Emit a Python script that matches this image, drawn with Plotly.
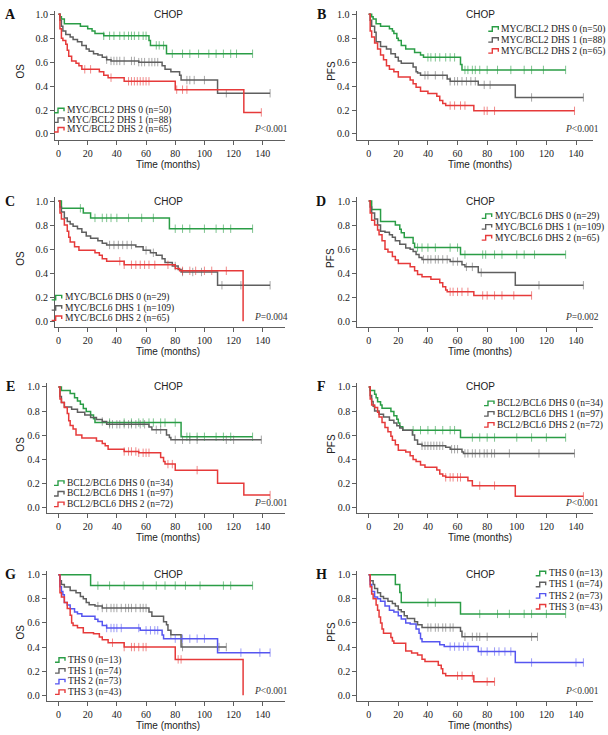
import plotly.graph_objects as go

W, H = 608, 735

# ---------------- data (time in months, survival) ----------------
MONTH_TICKS = [0, 20, 40, 60, 80, 100, 120, 140]
SURV_TICKS = [0.0, 0.2, 0.4, 0.6, 0.8, 1.0]

LBL_MB2 = ["MYC/BCL2 DHS 0 (n=50)", "MYC/BCL2 DHS 1 (n=88)", "MYC/BCL2 DHS 2 (n=65)"]
LBL_MB6 = ["MYC/BCL6 DHS 0 (n=29)", "MYC/BCL6 DHS 1 (n=109)", "MYC/BCL6 DHS 2 (n=65)"]
LBL_BB6 = ["BCL2/BCL6 DHS 0 (n=34)", "BCL2/BCL6 DHS 1 (n=97)", "BCL2/BCL6 DHS 2 (n=72)"]
LBL_THS = ["THS 0 (n=13)", "THS 1 (n=74)", "THS 2 (n=73)", "THS 3 (n=43)"]

P_VALUES = ["<i>P</i>&lt;0.001", "<i>P</i>&lt;0.001", "<i>P</i>=0.004", "<i>P</i>=0.002",
            "<i>P</i>=0.001", "<i>P</i>&lt;0.001", "<i>P</i>&lt;0.001", "<i>P</i>&lt;0.001"]

# Panel A: OS, MYC/BCL2
A0 = [(0,1.0),(1,0.98),(2,0.96),(4,0.92),(15,0.90),(20,0.88),(23,0.86),(25,0.84),(31,0.82),(62,0.78),(63,0.74),(74,0.67),(133,0.67)]
A1 = [(0,1.0),(1,0.95),(2,0.90),(3,0.86),(5,0.83),(8,0.81),(10,0.79),(13,0.77),(16,0.74),(19,0.71),(21,0.69),(24,0.67),(27,0.66),(30,0.64),(33,0.62),(36,0.61),(55,0.60),(71,0.57),(73,0.54),(77,0.52),(83,0.49),(84,0.45),(109,0.34),(145,0.34)]
A2 = [(0,1.0),(1,0.88),(2,0.80),(3,0.78),(5,0.75),(6,0.70),(7,0.65),(9,0.61),(12,0.59),(14,0.57),(16,0.54),(28,0.52),(31,0.49),(34,0.47),(45,0.44),(80,0.37),(127,0.18),(139,0.18)]
A0_cens = [31,35,38,42,45,48,50,52,55,58,60,67,69,72,78,85,90,96,103,108,113,118,122,133]
A1_cens = [33,36,38,40,42,45,50,52,55,57,59,62,64,66,68,88,90,93,100,115,145]
A2_cens = [18,22,36,48,50,52,54,56,58,60,62,81,85,88,139]

# Panel B: PFS, MYC/BCL2
B0 = [(0,1.0),(2,0.98),(3,0.96),(5,0.92),(8,0.90),(14,0.88),(16,0.86),(17,0.84),(19,0.80),(20,0.78),(22,0.74),(25,0.71),(31,0.68),(35,0.66),(37,0.64),(62,0.58),(63,0.535),(133,0.535)]
B1 = [(0,1.0),(1,0.95),(2,0.90),(4,0.85),(5,0.77),(8,0.73),(12,0.71),(15,0.67),(18,0.64),(20,0.61),(22,0.59),(30,0.56),(32,0.52),(33,0.51),(35,0.49),(53,0.46),(55,0.44),(74,0.41),(99,0.305),(145,0.305)]
B2 = [(0,1.0),(1,0.86),(2,0.81),(4,0.76),(6,0.71),(8,0.66),(10,0.62),(12,0.57),(14,0.54),(17,0.52),(20,0.475),(28,0.45),(30,0.42),(32,0.39),(35,0.356),(40,0.337),(46,0.315),(48,0.28),(50,0.254),(52,0.237),(71,0.193),(139,0.193)]
B0_cens = [40,42,45,48,52,55,58,65,67,70,72,75,80,87,96,105,110,118,133]
B1_cens = [38,40,45,50,55,58,60,63,66,69,72,78,82,110,145]
B2_cens = [55,58,62,65,78,80,85,139]

# Panel C: OS, MYC/BCL6
C0 = [(0,1.0),(2,0.94),(17,0.90),(22,0.86),(76,0.77),(133,0.77)]
C1 = [(0,1.0),(1,0.95),(2,0.91),(4,0.86),(6,0.83),(8,0.81),(10,0.79),(13,0.77),(16,0.74),(19,0.71),(22,0.69),(27,0.67),(30,0.65),(33,0.635),(53,0.62),(58,0.59),(63,0.57),(67,0.55),(71,0.52),(73,0.49),(78,0.46),(82,0.43),(84,0.41),(109,0.30),(145,0.30)]
C2 = [(0,1.0),(1,0.90),(2,0.85),(4,0.80),(6,0.75),(7,0.70),(8,0.66),(11,0.62),(14,0.59),(25,0.57),(28,0.55),(30,0.52),(33,0.50),(45,0.47),(80,0.44),(83,0.42),(126.5,0.0)]
C0_cens = [15,25,30,33,36,40,48,57,65,80,85,90,100,108,113,118,133]
C1_cens = [35,38,41,44,47,50,60,65,80,85,92,98,112,125,145]
C2_cens = [42,45,50,53,56,59,62,66,75,85,90,94,100,105,115]

# Panel D: PFS, MYC/BCL6
D0 = [(0,1.0),(2,0.93),(8,0.83),(18,0.80),(21,0.765),(22,0.737),(24,0.696),(30,0.65),(31,0.613),(62,0.555),(133,0.555)]
D1 = [(0,1.0),(1,0.95),(2,0.90),(4,0.85),(6,0.80),(8,0.75),(11,0.74),(14,0.72),(16,0.70),(18,0.67),(21,0.64),(25,0.61),(28,0.60),(30,0.58),(32,0.555),(34,0.53),(36,0.515),(55,0.497),(63,0.47),(65,0.453),(74,0.405),(99,0.30),(145,0.30)]
D2 = [(0,1.0),(1,0.90),(2,0.84),(4,0.80),(6,0.76),(7,0.72),(9,0.67),(11,0.60),(13,0.577),(16,0.54),(18,0.51),(20,0.48),(28,0.453),(31,0.42),(33,0.39),(36,0.37),(42,0.35),(48,0.32),(50,0.287),(52,0.26),(53,0.245),(71,0.215),(110,0.215)]
D0_cens = [33,36,40,45,55,60,65,77,79,85,90,100,105,112,133]
D1_cens = [37,40,42,45,47,50,53,57,60,66,70,76,115,145]
D2_cens = [55,57,60,63,67,77,80,85,90,98,110]

# Panel E: OS, BCL2/BCL6
E0 = [(0,1.0),(2,0.97),(8,0.945),(11,0.91),(13,0.884),(15,0.856),(17,0.82),(19,0.796),(22,0.768),(24,0.735),(25,0.704),(84,0.586),(133,0.586)]
E1 = [(0,1.0),(1,0.92),(2,0.87),(4,0.834),(9,0.815),(13,0.79),(18,0.768),(22,0.746),(26,0.73),(30,0.713),(33,0.69),(62,0.668),(64,0.644),(74,0.60),(76,0.58),(77,0.561),(139,0.561)]
E2 = [(0,1.0),(1,0.90),(2,0.87),(4,0.83),(6,0.78),(7,0.72),(8,0.68),(10,0.65),(12,0.60),(16,0.575),(26,0.552),(30,0.53),(32,0.511),(34,0.483),(45,0.464),(55,0.453),(70,0.414),(72,0.38),(73,0.359),(80,0.309),(109,0.20),(127,0.102),(145,0.102)]
E0_cens = [35,45,50,55,58,62,65,70,73,80,88,90,95,100,108,113,118,133]
E1_cens = [30,35,37,40,42,45,48,50,53,56,59,67,70,80,85,90,95,115,120,139]
E2_cens = [45,48,50,53,55,58,60,62,75,78,95,145]

# Panel F: PFS, BCL2/BCL6
F0 = [(0,1.0),(1,0.97),(4,0.94),(5,0.91),(6,0.878),(8,0.85),(9,0.823),(15,0.796),(17,0.76),(19,0.732),(20,0.70),(21,0.67),(23,0.641),(62,0.58),(133,0.58)]
F1 = [(0,1.0),(1,0.93),(2,0.88),(3,0.84),(4,0.80),(7,0.773),(10,0.75),(14,0.724),(17,0.70),(19,0.677),(21,0.66),(23,0.641),(29.5,0.60),(31,0.56),(33,0.525),(36,0.511),(52,0.50),(55,0.483),(63,0.46),(64,0.448),(139,0.448)]
F2 = [(0,1.0),(1,0.90),(2,0.85),(4,0.83),(6,0.79),(7,0.751),(9,0.704),(11,0.663),(13,0.627),(15,0.59),(16,0.558),(18,0.52),(20,0.475),(25,0.46),(28,0.428),(30,0.398),(32,0.38),(35,0.351),(38,0.332),(46,0.31),(48,0.276),(50,0.26),(52,0.249),(67,0.22),(70,0.18),(99,0.091),(145,0.091)]
F0_cens = [30,35,40,45,50,55,58,70,75,80,85,100,110,120,133]
F1_cens = [36,38,40,42,44,46,48,50,56,58,60,65,67,70,72,75,78,80,83,85,95,115,139]
F2_cens = [52,55,57,60,62,75,85,145]

# Panel G: OS, THS
G0 = [(0,1.0),(22,0.91),(133,0.91)]
G1 = [(0,1.0),(1,0.95),(2,0.92),(4,0.898),(8,0.87),(12,0.851),(15,0.82),(17,0.80),(19,0.77),(21,0.751),(25,0.74),(30,0.724),(62,0.69),(64,0.655),(72,0.61),(74,0.586),(75,0.54),(77,0.503),(84,0.40),(115,0.40)]
G2 = [(0,1.0),(1,0.90),(2,0.86),(3,0.834),(4,0.77),(6,0.75),(8,0.718),(11,0.69),(13,0.677),(16,0.655),(25,0.63),(27,0.613),(30,0.58),(33,0.558),(56,0.539),(71,0.50),(72,0.47),(109,0.354),(145,0.354)]
G3 = [(0,1.0),(1,0.85),(2,0.815),(4,0.77),(6,0.72),(8,0.663),(9,0.60),(10,0.58),(13,0.56),(17,0.519),(24,0.511),(28,0.483),(30,0.46),(34,0.436),(45,0.40),(80,0.298),(126.5,0.0)]
G0_cens = [27,35,45,58,67,73,80,87,97,113,118,133]
G1_cens = [27,30,33,36,38,40,43,46,48,50,53,56,58,60,77,85,110,115]
G2_cens = [33,36,38,40,43,55,60,63,66,68,80,85,90,95,100,125,138,145]
G3_cens = [37,45,50,52,55,58,60,82,84]

# Panel H: PFS, THS
H0 = [(0,1.0),(18,0.92),(21,0.852),(22,0.769),(62,0.675),(133,0.675)]
H1 = [(0,1.0),(1,0.95),(3,0.92),(4,0.885),(6,0.85),(8,0.82),(10,0.802),(13,0.78),(16,0.761),(18,0.74),(20,0.71),(22,0.692),(24,0.66),(26,0.637),(31,0.61),(33,0.585),(36,0.562),(62,0.531),(63,0.485),(114,0.485)]
H2 = [(0,1.0),(1,0.92),(2,0.86),(4,0.816),(6,0.80),(8,0.78),(11,0.74),(14,0.706),(17,0.69),(20,0.659),(22,0.632),(25,0.60),(28,0.591),(32,0.55),(34,0.514),(35,0.47),(36,0.445),(48,0.42),(51,0.404),(74,0.363),(99,0.272),(145,0.272)]
H3 = [(0,1.0),(1,0.90),(2,0.84),(3,0.80),(5,0.75),(6,0.706),(7,0.65),(8,0.60),(9,0.55),(10,0.514),(15,0.48),(16,0.45),(17,0.431),(25,0.368),(29,0.35),(33,0.335),(36,0.30),(38,0.28),(47,0.25),(49,0.22),(50,0.18),(52,0.162),(71,0.113),(85,0.113)]
H0_cens = [40,45,75,87,95,105,110,120,133]
H1_cens = [40,42,45,47,50,52,55,57,65,70,73,75,80,110,114]
H2_cens = [55,58,61,64,67,76,80,85,88,92,96,110,140,145]
H3_cens = [60,63,70,80,85]

# ---------------- style ----------------
GREEN = "#2a9d46"
GRAY = "#5f5f5f"
BLUE = "#5656f0"
RED = "#e63a3a"
CENS = {GREEN: "rgba(42,157,70,0.6)", GRAY: "rgba(95,95,95,0.55)",
        BLUE: "rgba(86,86,240,0.6)", RED: "rgba(230,58,58,0.6)"}
SERIF = "Liberation Serif"
SANS = "Liberation Sans"
AXC = "#5e5e5e"

LEFT = dict(x0=58.5, x140=262.8, R=285, title_x=168, letter_x=10, p_right=290)
RIGHT = dict(x0=368.7, x140=576.0, R=593, title_x=480, letter_x=321, p_right=601)

panels = [
    dict(letter="A", side=LEFT, L=55.0, y1=12.3, y0=132.3, ylab="OS", p=P_VALUES[0],
         series=[(LBL_MB2[0], GREEN, A0, A0_cens), (LBL_MB2[1], GRAY, A1, A1_cens), (LBL_MB2[2], RED, A2, A2_cens)],
         leg_x=65, leg_y=[109, 118.7, 128.3]),
    dict(letter="B", side=RIGHT, L=356.5, y1=12.3, y0=132.3, ylab="PFS", p=P_VALUES[1],
         series=[(LBL_MB2[0], GREEN, B0, B0_cens), (LBL_MB2[1], GRAY, B1, B1_cens), (LBL_MB2[2], RED, B2, B2_cens)],
         leg_x=499.3, leg_y=[27.3, 38.3, 49.3]),
    dict(letter="C", side=LEFT, L=55.0, y1=199.6, y0=320.2, ylab="OS", p=P_VALUES[2],
         series=[(LBL_MB6[0], GREEN, C0, C0_cens), (LBL_MB6[1], GRAY, C1, C1_cens), (LBL_MB6[2], RED, C2, C2_cens)],
         leg_x=62.7, leg_y=[296.7, 307, 317.3]),
    dict(letter="D", side=RIGHT, L=357.0, y1=199.6, y0=320.2, ylab="PFS", p=P_VALUES[3],
         series=[(LBL_MB6[0], GREEN, D0, D0_cens), (LBL_MB6[1], GRAY, D1, D1_cens), (LBL_MB6[2], RED, D2, D2_cens)],
         leg_x=492.7, leg_y=[215, 225.7, 236.7]),
    dict(letter="E", side=LEFT, L=46.7, y1=386.0, y0=506.7, ylab="OS", p=P_VALUES[4],
         series=[(LBL_BB6[0], GREEN, E0, E0_cens), (LBL_BB6[1], GRAY, E1, E1_cens), (LBL_BB6[2], RED, E2, E2_cens)],
         leg_x=65, leg_y=[482.7, 493.3, 504]),
    dict(letter="F", side=RIGHT, L=357.3, y1=386.0, y0=506.7, ylab="PFS", p=P_VALUES[5],
         series=[(LBL_BB6[0], GREEN, F0, F0_cens), (LBL_BB6[1], GRAY, F1, F1_cens), (LBL_BB6[2], RED, F2, F2_cens)],
         leg_x=495, leg_y=[402.7, 413.3, 424.3]),
    dict(letter="G", side=LEFT, L=46.7, y1=574.3, y0=695.2, ylab="OS", p=P_VALUES[6],
         series=[(LBL_THS[0], GREEN, G0, G0_cens), (LBL_THS[1], GRAY, G1, G1_cens),
                 (LBL_THS[2], BLUE, G2, G2_cens), (LBL_THS[3], RED, G3, G3_cens)],
         leg_x=66, leg_y=[660, 671, 681.7, 692.3]),
    dict(letter="H", side=RIGHT, L=357.3, y1=574.3, y0=695.2, ylab="PFS", p=P_VALUES[7],
         series=[(LBL_THS[0], GREEN, H0, H0_cens), (LBL_THS[1], GRAY, H1, H1_cens),
                 (LBL_THS[2], BLUE, H2, H2_cens), (LBL_THS[3], RED, H3, H3_cens)],
         leg_x=546.7, leg_y=[573.3, 584.3, 595.7, 606.7]),
]


def surv_at(points, t):
    s = points[0][1]
    for tt, ss in points:
        if tt <= t:
            s = ss
        else:
            break
    return s


def px(x):
    return x / W


def py(y):
    return 1 - y / H


fig = go.Figure()
annotations = []
shapes = []
layout_axes = {}

for i, p in enumerate(panels):
    k = "" if i == 0 else str(i + 1)
    xa, ya = "x" + k, "y" + k
    side = p["side"]
    sc = (side["x140"] - side["x0"]) / 140.0
    xr = [(p["L"] - side["x0"]) / sc, (side["R"] - side["x0"]) / sc]
    sy = p["y0"] - p["y1"]
    ybot = p["y0"] + 0.05 * sy
    ytop = p["y1"] - 0.03 * sy

    axis_common = dict(showgrid=False, zeroline=False, showline=True, linecolor=AXC, linewidth=1,
                       ticks="outside", ticklen=4, tickcolor=AXC, tickwidth=1,
                       tickfont=dict(family=SERIF, size=10, color="#222"))
    layout_axes["xaxis" + k] = dict(axis_common, domain=[px(p["L"]), px(side["R"])], range=xr,
                                    tickmode="array", tickvals=MONTH_TICKS, anchor=ya, fixedrange=True)
    layout_axes["yaxis" + k] = dict(axis_common, domain=[py(ybot), py(ytop)], range=[-0.05, 1.03],
                                    tickmode="array", tickvals=SURV_TICKS, ticktext=[f"{v:.1f}" for v in SURV_TICKS],
                                    anchor=xa, fixedrange=True)

    for (label, color, pts, cens) in p["series"]:
        fig.add_trace(go.Scatter(x=[a for a, b in pts], y=[b for a, b in pts], mode="lines",
                                 line=dict(color=color, width=1.5, shape="hv"),
                                 xaxis=xa, yaxis=ya, showlegend=False, hoverinfo="skip"))
        fig.add_trace(go.Scatter(x=cens, y=[surv_at(pts, t) for t in cens], mode="markers",
                                 marker=dict(symbol="line-ns", size=6, line=dict(color=CENS[color], width=1)),
                                 xaxis=xa, yaxis=ya, showlegend=False, hoverinfo="skip"))

    # panel letter
    annotations.append(dict(text="<b>" + p["letter"] + "</b>", x=px(side["letter_x"]), y=py(p["y1"]),
                            xref="paper", yref="paper", xanchor="center", yanchor="middle", showarrow=False,
                            font=dict(family=SERIF, size=14, color="#111")))
    # CHOP
    annotations.append(dict(text="CHOP", x=px(side["title_x"]), y=py(p["y1"]), xref="paper", yref="paper",
                            xanchor="center", yanchor="middle", showarrow=False,
                            font=dict(family=SANS, size=10, color="#222")))
    # y label
    annotations.append(dict(text=p["ylab"], x=px(side["x0"] - 38), y=py((p["y0"] + p["y1"]) / 2 - 3),
                            xref="paper", yref="paper", xanchor="center", yanchor="middle", showarrow=False,
                            textangle=-90, font=dict(family=SANS, size=10, color="#222")))
    # x label
    annotations.append(dict(text="Time (months)", x=px(side["title_x"]), y=py(p["y0"] + 30.5),
                            xref="paper", yref="paper", xanchor="center", yanchor="middle", showarrow=False,
                            font=dict(family=SANS, size=10, color="#222")))
    # p value
    annotations.append(dict(text=p["p"], x=px(side["p_right"]), y=py(p["y0"] - 4.5),
                            xref="paper", yref="paper", xanchor="right", yanchor="middle", showarrow=False,
                            font=dict(family=SERIF, size=9.5, color="#333")))
    # legend
    for (label, color, pts, cens), yc in zip(p["series"], p["leg_y"]):
        annotations.append(dict(text=label, x=px(p["leg_x"]), y=py(yc), xref="paper", yref="paper",
                                xanchor="left", yanchor="middle", showarrow=False,
                                font=dict(family=SERIF, size=9.5, color="#222")))
        xs = p["leg_x"]
        path = "M {:.4f},{:.4f} L {:.4f},{:.4f} L {:.4f},{:.4f} L {:.4f},{:.4f} L {:.4f},{:.4f}".format(
            px(xs - 11), py(yc + 2), px(xs - 7), py(yc + 2), px(xs - 7), py(yc - 2.5),
            px(xs - 1), py(yc - 2.5), px(xs - 1), py(yc + 0.5))
        shapes.append(dict(type="path", path=path, xref="paper", yref="paper",
                           line=dict(color=color, width=1.4)))

fig.update_layout(width=W, height=H, margin=dict(l=0, r=0, t=0, b=0), autosize=False,
                  paper_bgcolor="white", plot_bgcolor="white", showlegend=False,
                  annotations=annotations, shapes=shapes, **layout_axes)

fig.write_html("out.html", config={"displayModeBar": False},
               post_script="document.body.style.margin='0';document.body.style.overflow='hidden';")
